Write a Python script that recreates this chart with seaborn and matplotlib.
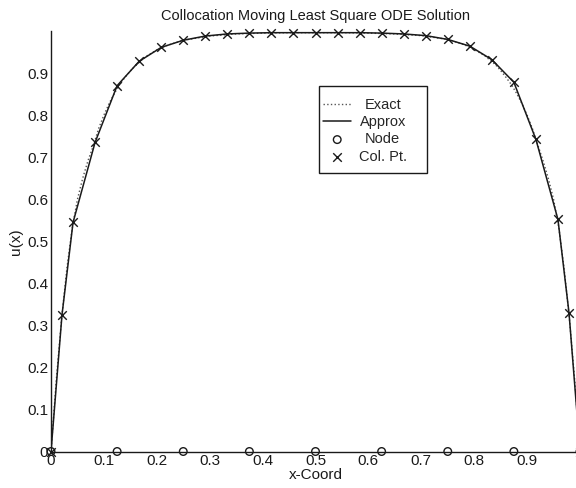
import matplotlib
matplotlib.use("Agg")
import matplotlib.pyplot as plt
from matplotlib.patches import Rectangle
from matplotlib.transforms import IdentityTransform
import seaborn as sns
import pandas as pd

title = "Collocation Moving Least Square ODE Solution"
x_label = "x-Coord"
y_label = "u(x)"
legend_labels = ["Exact", "Approx", "Node", "Col. Pt."]
x_ticks = [0, 0.1, 0.2, 0.3, 0.4, 0.5, 0.6, 0.7, 0.8, 0.9]
x_tick_labels = ["0", "0.1", "0.2", "0.3", "0.4", "0.5", "0.6", "0.7", "0.8", "0.9"]
y_ticks = [0, 0.1, 0.2, 0.3, 0.4, 0.5, 0.6, 0.7, 0.8, 0.9]
y_tick_labels = ["0", "0.1", "0.2", "0.3", "0.4", "0.5", "0.6", "0.7", "0.8", "0.9"]

# collocation points and approximate solution
col_x = [0.0, 0.0208, 0.0417, 0.0833, 0.125, 0.1667, 0.2083, 0.25, 0.2917,
         0.3333, 0.375, 0.4167, 0.4583, 0.5, 0.5417, 0.5833, 0.625, 0.6667,
         0.7083, 0.75, 0.7917, 0.8333, 0.875, 0.9167, 0.9583, 0.9792, 1.0]
col_u = [0.0, 0.325, 0.545, 0.735, 0.870, 0.928, 0.961, 0.978, 0.988,
         0.993, 0.995, 0.996, 0.996, 0.996, 0.996, 0.996, 0.995, 0.993,
         0.989, 0.980, 0.964, 0.932, 0.878, 0.742, 0.552, 0.330, 0.0]

# exact solution (dotted)
exact_x = [0.0, 0.01, 0.02, 0.03, 0.04, 0.05, 0.06, 0.07, 0.08, 0.09, 0.10,
           0.11, 0.12, 0.13, 0.14, 0.15, 0.16, 0.18, 0.20, 0.22, 0.25, 0.30,
           0.35, 0.40, 0.45, 0.50, 0.55, 0.60, 0.65, 0.70, 0.75, 0.78, 0.80,
           0.82, 0.84, 0.85, 0.86, 0.87, 0.88, 0.89, 0.90, 0.91, 0.92, 0.93,
           0.94, 0.95, 0.96, 0.97, 0.98, 0.99, 1.0]
exact_u = [0.0, 0.170, 0.315, 0.435, 0.530, 0.600, 0.650, 0.692, 0.727, 0.768,
           0.800, 0.828, 0.852, 0.873, 0.890, 0.905, 0.918, 0.940, 0.955, 0.966,
           0.978, 0.988, 0.993, 0.995, 0.996, 0.996, 0.996, 0.995, 0.993, 0.989,
           0.980, 0.968, 0.956, 0.941, 0.920, 0.906, 0.890, 0.873, 0.852, 0.828,
           0.800, 0.768, 0.730, 0.692, 0.650, 0.600, 0.532, 0.435, 0.315, 0.170,
           0.0]

# nodes
node_x = [0.0, 0.125, 0.25, 0.375, 0.5, 0.625, 0.75, 0.875, 1.0]
node_u = [0.0, 0.0, 0.0, 0.0, 0.0, 0.0, 0.0, 0.0, 0.0]

sns.set_style("white")
plt.rcParams["font.family"] = ["Liberation Sans", "DejaVu Sans"]
plt.rcParams["font.size"] = 10

W, H = 576, 488
fig = plt.figure(figsize=(W / 100, H / 100), dpi=100)
ax = fig.add_axes([51 / W, 36.5 / H, 529 / W, 420.5 / H])

ink = "#1a1a1a"
exact_df = pd.DataFrame({"x": exact_x, "u": exact_u})
col_df = pd.DataFrame({"x": col_x, "u": col_u})
node_df = pd.DataFrame({"x": node_x, "u": node_u})

sns.lineplot(data=exact_df, x="x", y="u", ax=ax, color="#555555", lw=1.0,
             linestyle=":", label=legend_labels[0], sort=False)
sns.lineplot(data=col_df, x="x", y="u", ax=ax, color=ink, lw=1.1,
             label=legend_labels[1], sort=False)
sns.scatterplot(data=node_df, x="x", y="u", ax=ax, marker="o", s=30,
                facecolor="none", edgecolor=ink, linewidth=1.0,
                label=legend_labels[2], clip_on=False, zorder=5)
sns.scatterplot(data=col_df, x="x", y="u", ax=ax, marker="x", s=38,
                color=ink, linewidth=1.0, label=legend_labels[3],
                clip_on=False, zorder=5)

ax.set_xlim(0, 1)
ax.set_ylim(0, 1)
ax.set_xticks(x_ticks)
ax.set_xticklabels(x_tick_labels)
ax.set_yticks(y_ticks)
ax.set_yticklabels(y_tick_labels)
ax.tick_params(direction="in", length=5, width=0.9, colors=ink,
               labelsize=11, pad=2)
for side in ["top", "right"]:
    ax.spines[side].set_visible(False)
for side in ["left", "bottom"]:
    ax.spines[side].set_color(ink)
    ax.spines[side].set_linewidth(1.0)

ax.set_title(title, fontsize=10.5, color=ink, pad=8)
ax.set_xlabel(x_label, fontsize=11, color=ink, labelpad=0)
ax.set_ylabel(y_label, fontsize=11, color=ink, labelpad=3)

leg = ax.legend(loc="upper left", bbox_to_anchor=(323 / W, 1 - 98 / H),
                bbox_transform=fig.transFigure, frameon=False,
                fontsize=10.5, handlelength=1.95, handletextpad=0.5,
                labelspacing=0.22, borderpad=0, borderaxespad=0)

# center the legend texts within their column
fig.canvas.draw()
renderer = fig.canvas.get_renderer()
widths = [t.get_window_extent(renderer).width for t in leg.get_texts()]
wmax = max(widths)
for t, w in zip(leg.get_texts(), widths):
    t.set_x((wmax - w) / 2)

# MATLAB-style legend box (roomier on the right)
bb = leg.get_window_extent(renderer)
box = Rectangle((bb.x0 - 4, bb.y0 - 9), bb.width + 24, bb.height + 21,
                transform=IdentityTransform(), facecolor="white",
                edgecolor=ink, linewidth=1.0, zorder=4.5)
ax.add_patch(box)

fig.savefig("out.png", dpi=100)
